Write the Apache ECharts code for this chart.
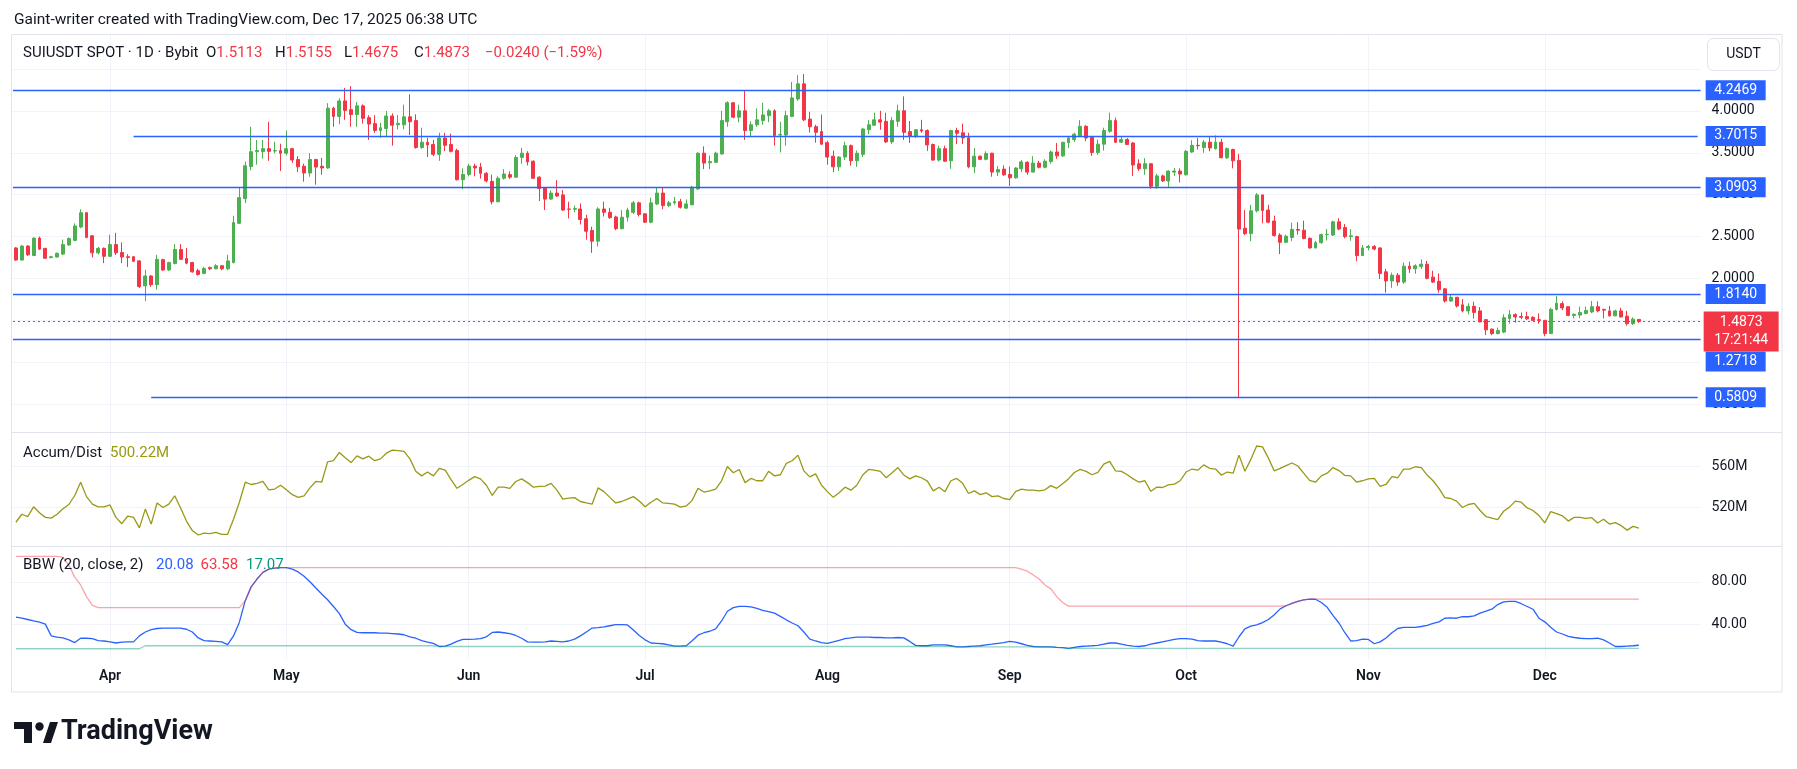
<!DOCTYPE html>
<html>
<head>
<meta charset="utf-8">
<title>SUIUSDT 1D</title>
<script src="https://cdn.jsdelivr.net/npm/echarts@6/dist/echarts.min.js"></script>
<style>
  html, body { margin: 0; padding: 0; background: #fff; }
  #chart { width: 1797px; height: 769px; }
</style>
</head>
<body>
<div id="chart"></div>
<script>
// 日线，从 2025-03-16 开始，每天一根
var firstDay = '2025-03-16'
var emptyDays = 10 // 最后一根K线右侧的空白天数

// [open, close, low, high]
var candles = [
  [2.365, 2.220, 2.211, 2.374], [2.220, 2.387, 2.215, 2.400], [2.387, 2.283, 2.270, 2.400], [2.274, 2.482, 2.270, 2.490], [2.482, 2.351, 2.340, 2.500],
  [2.360, 2.242, 2.235, 2.365], [2.250, 2.260, 2.240, 2.270], [2.256, 2.300, 2.250, 2.310], [2.292, 2.405, 2.280, 2.464], [2.400, 2.478, 2.390, 2.490],
  [2.455, 2.627, 2.445, 2.658], [2.614, 2.785, 2.600, 2.826], [2.785, 2.491, 2.480, 2.795], [2.510, 2.306, 2.251, 2.520], [2.306, 2.360, 2.287, 2.378],
  [2.360, 2.265, 2.183, 2.370], [2.265, 2.405, 2.260, 2.523], [2.405, 2.306, 2.280, 2.545], [2.310, 2.256, 2.183, 2.430], [2.260, 2.250, 2.138, 2.290],
  [2.260, 2.206, 2.195, 2.270], [2.210, 1.903, 1.885, 2.220], [1.912, 2.030, 1.731, 2.102], [2.030, 1.926, 1.900, 2.040], [1.926, 2.229, 1.867, 2.283],
  [2.225, 2.102, 2.090, 2.235], [2.102, 2.190, 2.090, 2.200], [2.180, 2.346, 2.170, 2.410], [2.346, 2.229, 2.220, 2.410], [2.240, 2.183, 2.170, 2.365],
  [2.190, 2.079, 2.070, 2.200], [2.093, 2.048, 2.034, 2.116], [2.061, 2.120, 2.050, 2.138], [2.130, 2.116, 2.100, 2.143], [2.116, 2.152, 2.110, 2.170],
  [2.152, 2.116, 2.100, 2.160], [2.116, 2.210, 2.100, 2.283], [2.190, 2.668, 2.180, 2.749], [2.659, 2.966, 2.650, 3.088], [2.953, 3.346, 2.900, 3.396],
  [3.337, 3.514, 3.292, 3.812], [3.514, 3.527, 3.360, 3.654], [3.514, 3.550, 3.430, 3.654], [3.550, 3.518, 3.405, 3.871], [3.523, 3.527, 3.495, 3.632],
  [3.527, 3.496, 3.283, 3.609], [3.496, 3.550, 3.470, 3.767], [3.550, 3.414, 3.380, 3.560], [3.420, 3.333, 3.270, 3.460], [3.340, 3.260, 3.156, 3.370],
  [3.260, 3.420, 3.215, 3.496], [3.420, 3.330, 3.120, 3.430], [3.340, 3.320, 3.238, 3.440], [3.320, 4.034, 3.310, 4.093], [4.034, 3.935, 3.812, 4.050],
  [3.935, 4.120, 3.840, 4.152], [4.120, 4.007, 3.894, 4.274], [4.016, 3.957, 3.812, 4.297], [3.957, 4.061, 3.812, 4.107], [4.061, 3.912, 3.850, 4.080],
  [3.920, 3.844, 3.654, 3.950], [3.849, 3.767, 3.740, 3.950], [3.767, 3.800, 3.680, 3.860], [3.790, 3.940, 3.686, 4.000], [3.940, 3.830, 3.586, 3.970],
  [3.835, 3.853, 3.780, 3.950], [3.835, 3.930, 3.780, 4.075], [3.930, 3.871, 3.713, 4.200], [3.885, 3.564, 3.550, 3.960], [3.564, 3.627, 3.550, 3.800],
  [3.627, 3.595, 3.450, 3.680], [3.600, 3.482, 3.460, 3.654], [3.482, 3.677, 3.405, 3.740], [3.677, 3.590, 3.520, 3.740], [3.600, 3.518, 3.505, 3.730],
  [3.527, 3.179, 3.170, 3.550], [3.179, 3.242, 3.066, 3.315], [3.242, 3.342, 3.220, 3.370], [3.342, 3.320, 3.220, 3.370], [3.330, 3.256, 3.193, 3.380],
  [3.256, 3.165, 3.147, 3.270], [3.160, 2.916, 2.885, 3.240], [2.916, 3.197, 2.910, 3.220], [3.197, 3.247, 3.180, 3.306], [3.240, 3.210, 3.190, 3.280],
  [3.210, 3.446, 3.200, 3.473], [3.446, 3.496, 3.370, 3.559], [3.496, 3.392, 3.350, 3.520], [3.400, 3.197, 3.188, 3.410], [3.210, 3.075, 2.925, 3.220],
  [3.084, 2.948, 2.817, 3.090], [2.948, 3.020, 2.935, 3.052], [3.020, 2.985, 2.975, 3.174], [2.998, 2.817, 2.808, 3.057], [2.830, 2.826, 2.717, 2.917],
  [2.826, 2.835, 2.790, 2.870], [2.830, 2.704, 2.645, 2.895], [2.713, 2.564, 2.464, 2.760], [2.573, 2.446, 2.306, 2.618], [2.446, 2.830, 2.382, 2.850],
  [2.830, 2.790, 2.740, 2.917], [2.790, 2.726, 2.713, 2.844], [2.735, 2.595, 2.577, 2.750], [2.595, 2.731, 2.586, 2.817], [2.731, 2.817, 2.680, 2.844],
  [2.790, 2.903, 2.770, 2.926], [2.903, 2.763, 2.740, 2.917], [2.772, 2.672, 2.663, 2.780], [2.672, 2.903, 2.659, 2.966], [2.890, 3.020, 2.876, 3.084],
  [3.020, 2.870, 2.826, 3.084], [2.870, 2.903, 2.850, 2.926], [2.903, 2.917, 2.880, 2.975], [2.917, 2.850, 2.835, 2.950], [2.840, 2.890, 2.830, 2.944],
  [2.880, 3.088, 2.876, 3.106], [3.070, 3.496, 3.057, 3.505], [3.496, 3.378, 3.306, 3.577], [3.382, 3.396, 3.306, 3.468], [3.387, 3.496, 3.378, 3.514],
  [3.487, 3.885, 3.478, 4.002], [3.872, 4.098, 3.812, 4.116], [4.098, 3.926, 3.912, 4.107], [3.926, 4.002, 3.867, 4.075], [4.002, 3.767, 3.654, 4.242],
  [3.767, 3.835, 3.700, 3.876], [3.835, 3.894, 3.810, 4.030], [3.885, 3.953, 3.835, 4.098], [3.944, 4.002, 3.867, 4.025], [4.002, 3.708, 3.586, 4.020],
  [3.713, 3.720, 3.505, 3.871], [3.713, 3.944, 3.586, 4.002], [3.935, 4.156, 3.926, 4.346], [4.143, 4.324, 4.120, 4.428], [4.324, 3.894, 3.880, 4.441],
  [3.903, 3.812, 3.745, 3.990], [3.812, 3.745, 3.622, 3.835], [3.754, 3.604, 3.595, 3.957], [3.622, 3.450, 3.360, 3.645], [3.460, 3.333, 3.270, 3.527],
  [3.333, 3.450, 3.283, 3.460], [3.450, 3.586, 3.414, 3.632], [3.586, 3.405, 3.346, 3.600], [3.405, 3.496, 3.333, 3.527], [3.482, 3.785, 3.450, 3.800],
  [3.776, 3.835, 3.722, 3.894], [3.830, 3.894, 3.821, 3.980], [3.894, 3.867, 3.776, 4.002], [3.876, 3.631, 3.618, 3.980], [3.631, 3.885, 3.604, 3.926],
  [3.876, 4.002, 3.812, 4.075], [4.002, 3.745, 3.654, 4.174], [3.754, 3.699, 3.618, 3.880], [3.699, 3.776, 3.677, 3.780], [3.776, 3.762, 3.740, 3.894],
  [3.767, 3.595, 3.523, 3.780], [3.600, 3.414, 3.405, 3.610], [3.414, 3.550, 3.396, 3.586], [3.550, 3.400, 3.392, 3.586], [3.405, 3.767, 3.310, 3.776],
  [3.767, 3.735, 3.604, 3.800], [3.740, 3.677, 3.604, 3.849], [3.681, 3.333, 3.315, 3.740], [3.333, 3.460, 3.260, 3.559], [3.460, 3.423, 3.414, 3.468],
  [3.423, 3.491, 3.410, 3.518], [3.496, 3.270, 3.215, 3.500], [3.270, 3.300, 3.224, 3.342], [3.306, 3.238, 3.224, 3.350], [3.242, 3.202, 3.106, 3.337],
  [3.202, 3.319, 3.193, 3.328], [3.310, 3.392, 3.270, 3.414], [3.387, 3.270, 3.238, 3.400], [3.270, 3.378, 3.270, 3.460], [3.378, 3.328, 3.315, 3.405],
  [3.328, 3.400, 3.315, 3.423], [3.396, 3.510, 3.370, 3.527], [3.510, 3.464, 3.428, 3.618], [3.464, 3.627, 3.450, 3.630], [3.622, 3.677, 3.559, 3.695],
  [3.658, 3.722, 3.631, 3.740], [3.704, 3.817, 3.695, 3.890], [3.817, 3.677, 3.640, 3.830], [3.686, 3.505, 3.464, 3.690], [3.505, 3.604, 3.478, 3.659],
  [3.604, 3.767, 3.527, 3.800], [3.758, 3.885, 3.740, 3.980], [3.885, 3.627, 3.618, 3.920], [3.627, 3.659, 3.618, 3.699], [3.659, 3.600, 3.595, 3.677],
  [3.618, 3.355, 3.225, 3.630], [3.370, 3.310, 3.283, 3.423], [3.310, 3.370, 3.238, 3.437], [3.370, 3.102, 3.070, 3.380], [3.102, 3.225, 3.070, 3.251],
  [3.225, 3.165, 3.152, 3.240], [3.165, 3.283, 3.093, 3.290], [3.270, 3.283, 3.225, 3.320], [3.283, 3.247, 3.147, 3.315], [3.238, 3.518, 3.230, 3.532],
  [3.510, 3.590, 3.500, 3.650], [3.590, 3.586, 3.540, 3.677], [3.563, 3.627, 3.500, 3.654], [3.627, 3.559, 3.518, 3.699], [3.550, 3.627, 3.540, 3.708],
  [3.627, 3.441, 3.436, 3.668], [3.441, 3.550, 3.428, 3.563], [3.540, 3.405, 3.315, 3.550], [3.410, 2.591, 0.582, 3.487], [2.600, 2.536, 2.518, 2.817],
  [2.536, 2.808, 2.446, 2.880], [2.808, 2.998, 2.790, 3.020], [2.998, 2.812, 2.659, 3.000], [2.817, 2.672, 2.659, 2.880], [2.686, 2.514, 2.500, 2.750],
  [2.518, 2.432, 2.292, 2.540], [2.432, 2.505, 2.423, 2.523], [2.490, 2.586, 2.446, 2.668], [2.586, 2.577, 2.523, 2.672], [2.577, 2.478, 2.468, 2.690],
  [2.480, 2.365, 2.356, 2.490], [2.365, 2.428, 2.360, 2.450], [2.428, 2.523, 2.415, 2.536], [2.523, 2.527, 2.455, 2.590], [2.518, 2.677, 2.509, 2.690],
  [2.677, 2.590, 2.577, 2.720], [2.609, 2.500, 2.478, 2.650], [2.500, 2.509, 2.450, 2.590], [2.500, 2.274, 2.206, 2.510], [2.274, 2.365, 2.270, 2.400],
  [2.370, 2.383, 2.337, 2.400], [2.383, 2.351, 2.337, 2.400], [2.365, 2.061, 1.993, 2.370], [2.080, 1.971, 1.831, 2.115], [1.971, 2.039, 1.889, 2.070],
  [2.039, 1.957, 1.912, 2.066], [1.957, 2.147, 1.935, 2.192], [2.147, 2.115, 2.066, 2.200], [2.115, 2.152, 2.057, 2.170], [2.143, 2.170, 2.115, 2.228],
  [2.170, 2.002, 1.990, 2.210], [2.016, 1.957, 1.948, 2.093], [1.966, 1.867, 1.831, 2.061], [1.876, 1.731, 1.713, 1.885], [1.731, 1.776, 1.722, 1.812],
  [1.776, 1.672, 1.654, 1.780], [1.686, 1.613, 1.595, 1.754], [1.613, 1.668, 1.572, 1.704], [1.668, 1.595, 1.523, 1.722], [1.613, 1.482, 1.477, 1.659],
  [1.509, 1.387, 1.324, 1.510], [1.396, 1.342, 1.324, 1.400], [1.342, 1.378, 1.333, 1.414], [1.360, 1.532, 1.346, 1.572], [1.523, 1.568, 1.460, 1.623],
  [1.568, 1.541, 1.473, 1.586], [1.545, 1.536, 1.514, 1.595], [1.545, 1.518, 1.505, 1.604], [1.536, 1.500, 1.495, 1.550], [1.509, 1.500, 1.460, 1.582],
  [1.500, 1.342, 1.310, 1.505], [1.342, 1.631, 1.340, 1.650], [1.631, 1.704, 1.618, 1.790], [1.700, 1.649, 1.622, 1.727], [1.663, 1.559, 1.550, 1.668],
  [1.559, 1.573, 1.523, 1.582], [1.563, 1.595, 1.527, 1.663], [1.582, 1.618, 1.573, 1.663], [1.600, 1.663, 1.586, 1.731], [1.663, 1.613, 1.595, 1.727],
  [1.631, 1.622, 1.523, 1.640], [1.613, 1.554, 1.545, 1.672], [1.554, 1.613, 1.550, 1.627], [1.613, 1.541, 1.536, 1.650], [1.550, 1.460, 1.437, 1.613],
  [1.460, 1.514, 1.446, 1.536], [1.5113, 1.4873, 1.4675, 1.5155]
]

// Accum/Dist（百万）
var accDist = [
  505.8, 513.5, 511.3, 520.7, 514.9, 510.5, 509.8, 513.5, 518.9, 522.9,
  531.6, 544.4, 530.5, 523.3, 520.7, 520.7, 522.5, 510.5, 504.4, 511.6,
  510.5, 500.4, 518.5, 504.0, 524.4, 520.0, 523.3, 531.3, 519.6, 506.9,
  497.8, 493.5, 495.3, 494.9, 496.0, 494.2, 494.2, 508.7, 525.1, 544.4,
  542.2, 543.3, 545.1, 537.1, 537.8, 541.5, 537.1, 532.4, 529.8, 531.3,
  538.9, 545.1, 544.4, 564.0, 565.1, 573.1, 568.0, 563.3, 569.8, 566.9,
  569.5, 565.1, 566.9, 572.4, 575.3, 574.9, 574.2, 566.9, 554.9, 550.5,
  554.2, 550.5, 557.8, 556.0, 546.9, 538.5, 542.2, 546.2, 549.8, 547.6,
  541.5, 531.6, 539.6, 539.6, 538.5, 545.1, 547.6, 544.0, 539.6, 540.4,
  540.7, 543.3, 536.7, 528.0, 529.1, 529.5, 525.8, 524.4, 523.3, 538.9,
  535.3, 529.8, 524.4, 525.8, 528.0, 530.5, 526.2, 520.7, 525.1, 528.7,
  524.4, 524.0, 523.3, 520.4, 521.5, 526.9, 538.5, 534.9, 536.0, 537.8,
  545.8, 559.6, 553.5, 556.7, 544.0, 548.0, 545.8, 545.8, 554.9, 550.5,
  551.6, 562.5, 565.1, 570.5, 555.3, 549.5, 552.4, 541.5, 535.3, 529.8,
  534.2, 539.6, 536.7, 541.5, 551.3, 556.7, 556.0, 554.9, 548.7, 553.5,
  558.5, 551.3, 547.6, 550.5, 548.7, 545.5, 536.0, 539.6, 535.3, 545.8,
  548.0, 543.3, 533.5, 536.0, 532.4, 534.2, 530.5, 531.3, 528.7, 527.6,
  535.3, 537.8, 536.7, 536.7, 536.0, 537.1, 541.1, 538.5, 542.9, 547.6,
  553.8, 556.7, 554.9, 551.6, 553.8, 561.8, 564.4, 555.3, 554.9, 551.6,
  547.6, 544.4, 545.8, 535.6, 539.6, 539.3, 541.8, 542.5, 545.8, 554.2,
  557.1, 556.0, 561.1, 557.8, 557.1, 551.3, 554.2, 553.1, 570.5, 554.9,
  566.2, 579.3, 578.5, 567.6, 555.3, 557.8, 560.4, 562.9, 560.0, 553.1,
  546.2, 544.4, 550.5, 553.1, 558.5, 555.6, 550.9, 550.5, 544.4, 545.8,
  547.6, 548.0, 540.4, 542.2, 549.8, 548.7, 557.1, 557.1, 559.3, 558.5,
  551.3, 545.8, 538.5, 529.5, 528.7, 526.2, 520.0, 522.9, 524.0, 517.1,
  511.3, 509.8, 508.4, 516.4, 520.4, 526.2, 525.1, 519.6, 517.1, 512.4,
  505.1, 516.0, 514.2, 512.0, 506.9, 510.5, 510.5, 509.5, 510.2, 505.1,
  508.7, 504.0, 505.5, 502.5, 498.2, 501.8, 500.22
]

// BBW (20, close, 2)
var bbw = [
  46.7, 45.6, 44.4, 43.0, 41.9, 40.0, 28.9, 27.8, 27.0, 25.2,
  22.6, 26.7, 26.7, 26.3, 24.4, 24.1, 23.3, 22.2, 23.0, 23.3,
  23.3, 28.9, 32.6, 34.8, 35.9, 36.3, 36.3, 36.3, 36.3, 35.2,
  32.6, 27.0, 24.4, 24.1, 23.7, 23.3, 20.7, 28.9, 41.9, 62.2,
  75.2, 82.6, 88.9, 91.9, 93.0, 93.3, 93.3, 91.9, 89.3, 85.2,
  80.0, 74.1, 68.5, 63.0, 56.7, 50.0, 40.0, 34.8, 32.2, 31.9,
  31.9, 31.9, 31.5, 31.5, 31.1, 30.7, 30.0, 28.1, 26.7, 24.4,
  23.0, 21.9, 18.9, 19.3, 21.1, 23.7, 25.6, 25.6, 25.9, 26.3,
  28.1, 32.2, 32.6, 31.9, 31.1, 29.3, 26.7, 23.3, 23.0, 23.0,
  23.3, 24.1, 23.7, 23.3, 24.1, 25.9, 28.9, 32.6, 36.3, 36.7,
  37.4, 38.5, 39.6, 39.6, 39.3, 34.4, 29.3, 25.2, 22.2, 21.9,
  21.5, 20.4, 19.3, 19.3, 19.6, 24.4, 29.6, 31.9, 33.3, 35.6,
  43.0, 52.2, 55.6, 56.7, 56.7, 56.3, 54.8, 53.0, 51.9, 50.4,
  47.4, 44.1, 41.1, 38.5, 32.6, 25.9, 24.1, 22.6, 21.9, 23.3,
  24.8, 26.3, 27.0, 27.8, 27.8, 27.8, 27.4, 27.4, 27.0, 27.0,
  27.4, 27.0, 23.7, 20.0, 19.6, 19.6, 20.4, 20.4, 20.4, 19.6,
  18.5, 18.5, 18.9, 19.3, 19.6, 20.4, 21.1, 21.9, 22.6, 23.7,
  23.0, 21.5, 20.0, 18.9, 18.5, 18.5, 18.5, 18.1, 17.8, 17.07,
  18.1, 18.9, 19.3, 19.6, 20.0, 21.1, 22.2, 22.2, 21.1, 20.0,
  19.3, 18.9, 19.6, 21.1, 22.2, 23.3, 24.4, 25.6, 26.3, 26.3,
  25.9, 24.4, 24.1, 24.1, 24.1, 23.0, 21.5, 19.3, 28.1, 35.6,
  38.1, 39.3, 41.5, 44.4, 48.9, 54.4, 57.4, 59.6, 61.5, 63.0,
  63.58, 63.5, 60.4, 55.9, 48.1, 41.1, 31.9, 24.1, 24.4, 25.9,
  25.6, 21.5, 23.3, 27.0, 31.9, 35.9, 37.0, 37.0, 37.0, 37.8,
  38.9, 40.7, 42.2, 45.6, 45.9, 45.6, 47.0, 47.0, 47.8, 50.4,
  52.2, 54.1, 58.5, 61.1, 61.5, 61.5, 59.3, 56.7, 54.1, 45.6,
  42.2, 37.0, 32.6, 30.7, 28.5, 27.4, 26.7, 26.3, 26.3, 26.7,
  25.2, 22.2, 18.9, 18.9, 19.3, 19.6, 20.08
]

// Highest Expansion
var bbwHigh = [
  104, 104, 104, 104, 104, 104, 104, 104, 103, 95.5,
  84.4, 77, 66, 57.8, 55.6, 55.6, 55.6, 55.6, 55.6, 55.6,
  55.6, 55.6, 55.6, 55.6, 55.6, 55.6, 55.6, 55.6, 55.6, 55.6,
  55.6, 55.6, 55.6, 55.6, 55.6, 55.6, 55.6, 55.6, 55.6, 62.2,
  75.2, 82.6, 88.9, 91.9, 93, 93.3, 93.3, 93.3, 93.3, 93.3,
  93.3, 93.3, 93.3, 93.3, 93.3, 93.3, 93.3, 93.3, 93.3, 93.3,
  93.3, 93.3, 93.3, 93.3, 93.3, 93.3, 93.3, 93.3, 93.3, 93.3,
  93.3, 93.3, 93.3, 93.3, 93.3, 93.3, 93.3, 93.3, 93.3, 93.3,
  93.3, 93.3, 93.3, 93.3, 93.3, 93.3, 93.3, 93.3, 93.3, 93.3,
  93.3, 93.3, 93.3, 93.3, 93.3, 93.3, 93.3, 93.3, 93.3, 93.3,
  93.3, 93.3, 93.3, 93.3, 93.3, 93.3, 93.3, 93.3, 93.3, 93.3,
  93.3, 93.3, 93.3, 93.3, 93.3, 93.3, 93.3, 93.3, 93.3, 93.3,
  93.3, 93.3, 93.3, 93.3, 93.3, 93.3, 93.3, 93.3, 93.3, 93.3,
  93.3, 93.3, 93.3, 93.3, 93.3, 93.3, 93.3, 93.3, 93.3, 93.3,
  93.3, 93.3, 93.3, 93.3, 93.3, 93.3, 93.3, 93.3, 93.3, 93.3,
  93.3, 93.3, 93.3, 93.3, 93.3, 93.3, 93.3, 93.3, 93.3, 93.3,
  93.3, 93.3, 93.3, 93.3, 93.3, 93.3, 93.3, 93.3, 93.3, 93.3,
  93.3, 92, 90, 86.5, 82.6, 77, 73.3, 66, 60.4, 57,
  57, 57, 57, 57, 57, 57, 57, 57, 57, 57,
  57, 57, 57, 57, 57, 57, 57, 57, 57, 57,
  57, 57, 57, 57, 57, 57, 57, 57, 57, 57,
  57, 57, 57, 57, 57, 57, 57.4, 59.6, 61.5, 63,
  63.58, 63.58, 63.58, 63.58, 63.58, 63.58, 63.58, 63.58, 63.58, 63.58,
  63.58, 63.58, 63.58, 63.58, 63.58, 63.58, 63.58, 63.58, 63.58, 63.58,
  63.58, 63.58, 63.58, 63.58, 63.58, 63.58, 63.58, 63.58, 63.58, 63.58,
  63.58, 63.58, 63.58, 63.58, 63.58, 63.58, 63.58, 63.58, 63.58, 63.58,
  63.58, 63.58, 63.58, 63.58, 63.58, 63.58, 63.58, 63.58, 63.58, 63.58,
  63.58, 63.58, 63.58, 63.58, 63.58, 63.58, 63.58
]

// Lowest Contraction
var bbwLow = [
  16.8, 16.8, 16.8, 16.8, 16.8, 16.8, 16.8, 16.8, 16.8, 16.8,
  16.8, 16.8, 16.8, 16.8, 16.8, 16.8, 16.8, 16.8, 16.8, 16.8,
  16.8, 16.8, 19.6, 19.6, 19.6, 19.6, 19.6, 19.6, 19.6, 19.6,
  19.6, 19.6, 19.6, 19.6, 19.6, 19.6, 19.6, 19.6, 19.6, 19.6,
  19.6, 19.6, 19.6, 19.6, 19.6, 19.6, 19.6, 19.6, 19.6, 19.6,
  19.6, 19.6, 19.6, 19.6, 19.6, 19.6, 19.6, 19.6, 19.6, 19.6,
  19.6, 19.6, 19.6, 19.6, 19.6, 19.6, 19.6, 19.6, 19.6, 19.6,
  19.6, 19.6, 18.9, 18.9, 18.9, 18.9, 18.9, 18.9, 18.9, 18.9,
  18.9, 18.9, 18.9, 18.9, 18.9, 18.9, 18.9, 18.9, 18.9, 18.9,
  18.9, 18.9, 18.9, 18.9, 18.9, 18.9, 18.9, 18.9, 18.9, 18.9,
  18.9, 18.9, 18.9, 18.9, 18.9, 18.9, 18.9, 18.9, 18.9, 18.9,
  18.9, 18.9, 18.9, 18.9, 18.9, 18.9, 18.9, 18.9, 18.9, 18.9,
  18.9, 18.9, 18.9, 18.9, 18.9, 18.9, 18.9, 18.9, 18.9, 18.9,
  18.9, 18.9, 18.9, 18.9, 18.9, 18.9, 18.9, 18.9, 18.9, 18.9,
  18.9, 18.9, 18.9, 18.9, 18.9, 18.9, 18.9, 18.9, 18.9, 18.9,
  18.9, 18.9, 18.9, 18.9, 18.9, 18.9, 18.9, 18.9, 18.9, 18.9,
  18.5, 18.5, 18.5, 18.5, 18.5, 18.5, 18.5, 18.5, 18.5, 18.5,
  18.5, 18.5, 18.5, 18.5, 18.5, 18.5, 18.5, 18.1, 17.8, 17.07,
  17.07, 17.07, 17.07, 17.07, 17.07, 17.07, 17.07, 17.07, 17.07, 17.07,
  17.07, 17.07, 17.07, 17.07, 17.07, 17.07, 17.07, 17.07, 17.07, 17.07,
  17.07, 17.07, 17.07, 17.07, 17.07, 17.07, 17.07, 17.07, 17.07, 17.07,
  17.07, 17.07, 17.07, 17.07, 17.07, 17.07, 17.07, 17.07, 17.07, 17.07,
  17.07, 17.07, 17.07, 17.07, 17.07, 17.07, 17.07, 17.07, 17.07, 17.07,
  17.07, 17.07, 17.07, 17.07, 17.07, 17.07, 17.07, 17.07, 17.07, 17.07,
  17.07, 17.07, 17.07, 17.07, 17.07, 17.07, 17.07, 17.07, 17.07, 17.07,
  17.07, 17.07, 17.07, 17.07, 17.07, 17.07, 17.07, 17.07, 17.07, 17.07,
  17.07, 17.07, 17.07, 17.07, 17.07, 17.07, 17.07, 17.07, 17.07, 17.07,
  17.07, 17.07, 17.07, 17.07, 17.07, 17.07, 17.07
]

// 水平线价位，以及每条线从第几根K线开始画
var levels = [4.2469, 3.7015, 3.0903, 1.8140, 1.2718, 0.5809]
var levelStart = [0, 20, 0, 0, 0, 23]
var lastPrice = 1.4873
var countdown = '17:21:44'

// 刻度
var priceTicks = [0.5, 1, 1.5, 2, 2.5, 3, 3.5, 4, 4.5]
var adTicks = [520, 560]
var bbwTicks = [40, 80]
var monthNames = ['Jan', 'Feb', 'Mar', 'Apr', 'May', 'Jun', 'Jul', 'Aug', 'Sep', 'Oct', 'Nov', 'Dec']

var dates = []
var d0 = Date.parse(firstDay + 'T00:00:00Z')
for (var k = 0; k < candles.length + emptyDays; k++) {
  dates.push(new Date(d0 + k * 86400000).toISOString().slice(0, 10))
}
var lastIdx = dates.length - 1
var monthIdx = []
dates.forEach(function (d, i) { if (d.slice(8) === '01') monthIdx.push(i) })

var FONT = 'Roboto, "Noto Sans", sans-serif'
var TXT = '#131722'
var RED = '#f23645'
var gridColor = '#f0f3fa'

function gridLines (ticks, fmt, hidden) {
  var data = ticks.map(function (t) {
    return { yAxis: t, label: { show: hidden.indexOf(t) < 0, formatter: fmt(t) } }
  })
  monthIdx.forEach(function (i) {
    data.push({ xAxis: i, label: { show: false } })
  })
  return data
}

function gridHost (pane, data) {
  return {
    type: 'line',
    xAxisIndex: pane,
    yAxisIndex: pane,
    data: [],
    silent: true,
    clip: false,
    markLine: {
      silent: true,
      symbol: 'none',
      z: 1,
      lineStyle: { color: gridColor, width: 1, type: 'solid' },
      label: { position: 'end', distance: 11, color: TXT, fontSize: 14, fontFamily: FONT },
      data: data
    }
  }
}

// 图例文字：一段一段放
function legendText (x, y, parts) {
  var rich = {}
  var text = parts.map(function (p, i) {
    rich['p' + i] = { fill: p[1], fontSize: 15, fontFamily: FONT }
    return '{p' + i + '|' + p[0] + '}'
  }).join('')
  return { type: 'text', z: 100, x: x, y: y, style: { text: text, font: '15px ' + FONT, verticalAlign: 'middle', rich: rich } }
}

// 右侧价格标签
var badges = levels.map(function (v) {
  return {
    value: [lastIdx, v],
    text: v.toFixed(4),
    symbolOffset: [38, v === 1.2718 ? 22 : 0]
  }
})
badges.push({
  value: [lastIdx, lastPrice],
  text: lastPrice.toFixed(4) + '\n' + countdown,
  symbolSize: [75, 40],
  symbolOffset: [43.5, 10],
  itemStyle: { color: RED, opacity: 1 }
})

var levelLines = levels.map(function (v, k) {
  if (levelStart[k] === 0) return { yAxis: v }
  return [{ coord: [levelStart[k], v] }, { coord: [lastIdx, v] }]
})
levelLines.push({ yAxis: lastPrice, lineStyle: { color: RED, type: [2, 3], width: 1 } })

var L = 13
var W = 1687.6
var xAxes = [0, 1, 2].map(function (g) {
  return {
    type: 'category',
    gridIndex: g,
    data: dates,
    boundaryGap: true,
    axisLine: { show: false },
    axisTick: { show: false },
    splitLine: { show: false },
    axisLabel: g === 2 ? {
      show: true,
      interval: function (i, v) { return v.slice(8) === '01' },
      formatter: function (v) { return monthNames[+v.slice(5, 7) - 1] },
      color: TXT,
      fontSize: 14,
      fontWeight: 600,
      fontFamily: FONT,
      margin: 10
    } : { show: false }
  }
})

var yRange = [[0.1672, 4.919], [482.9, 592.8], [7.1, 113.8]]
var yAxes = yRange.map(function (r, g) {
  return {
    type: 'value',
    gridIndex: g,
    min: r[0],
    max: r[1],
    axisLine: { show: false },
    axisTick: { show: false },
    axisLabel: { show: false },
    splitLine: { show: false }
  }
})

var option = {
  animation: false,
  backgroundColor: '#ffffff',
  grid: [
    { left: L, top: 34, width: W, height: 398 },
    { left: L, top: 432, width: W, height: 114 },
    { left: L, top: 546, width: W, height: 113 }
  ],
  xAxis: xAxes,
  yAxis: yAxes,
  series: [
    gridHost(0, gridLines(priceTicks, function (t) { return t.toFixed(4) }, [4.5])),
    gridHost(1, gridLines(adTicks, function (t) { return t + 'M' }, [])),
    gridHost(2, gridLines(bbwTicks, function (t) { return t.toFixed(2) }, [])),
    {
      name: 'SUIUSDT',
      type: 'candlestick',
      xAxisIndex: 0,
      yAxisIndex: 0,
      data: candles,
      barWidth: 3.4,
      z: 3,
      itemStyle: {
        color: '#4caf50',
        color0: RED,
        borderColor: '#4caf50',
        borderColor0: RED,
        borderWidth: 1
      }
    },
    {
      type: 'line',
      xAxisIndex: 0,
      yAxisIndex: 0,
      data: [],
      silent: true,
      markLine: {
        silent: true,
        symbol: 'none',
        z: 4,
        label: { show: false },
        lineStyle: { color: '#2962ff', width: 1.3, type: 'solid' },
        data: levelLines
      }
    },
    {
      type: 'scatter',
      xAxisIndex: 0,
      yAxisIndex: 0,
      silent: true,
      clip: false,
      z: 10,
      symbol: 'rect',
      symbolSize: [60, 20],
      itemStyle: { color: '#2962ff', opacity: 1 },
      label: {
        show: true,
        position: 'inside',
        color: '#ffffff',
        fontSize: 14,
        fontFamily: FONT,
        lineHeight: 18,
        formatter: function (p) { return p.data.text }
      },
      data: badges
    },
    {
      name: 'Accum/Dist',
      type: 'line',
      xAxisIndex: 1,
      yAxisIndex: 1,
      data: accDist,
      showSymbol: false,
      lineStyle: { color: '#999915', width: 1.3 }
    },
    {
      name: 'BBW',
      type: 'line',
      xAxisIndex: 2,
      yAxisIndex: 2,
      data: bbw,
      showSymbol: false,
      lineStyle: { color: '#2962ff', width: 1.3 }
    },
    {
      name: 'Highest Expansion',
      type: 'line',
      xAxisIndex: 2,
      yAxisIndex: 2,
      data: bbwHigh,
      showSymbol: false,
      lineStyle: { color: 'rgba(242, 54, 69, 0.45)', width: 1.3 }
    },
    {
      name: 'Lowest Contraction',
      type: 'line',
      xAxisIndex: 2,
      yAxisIndex: 2,
      data: bbwLow,
      showSymbol: false,
      lineStyle: { color: 'rgba(8, 153, 129, 0.45)', width: 1.3 }
    }
  ],
  graphic: [
    // 外框和分隔线
    { type: 'rect', z: 50, silent: true, shape: { x: 11.5, y: 34.5, width: 1770.5, height: 657.5 }, style: { fill: 'none', stroke: '#e0e3eb', lineWidth: 1 } },
    { type: 'line', z: 50, silent: true, shape: { x1: 11.5, y1: 432.5, x2: 1782, y2: 432.5 }, style: { stroke: '#e0e3eb', lineWidth: 1 } },
    { type: 'line', z: 50, silent: true, shape: { x1: 11.5, y1: 546.5, x2: 1782, y2: 546.5 }, style: { stroke: '#e0e3eb', lineWidth: 1 } },
    // 顶部说明
    { type: 'text', z: 100, x: 14, y: 20, style: { text: 'Gaint-writer created with TradingView.com, Dec 17, 2025 06:38 UTC', fill: TXT, font: '15.5px ' + FONT, verticalAlign: 'middle' } },
    // 主图图例
    legendText(23, 53, [['SUIUSDT SPOT · 1D · Bybit', TXT]]),
    legendText(206, 53, [['O', TXT], ['1.5113', RED]]),
    legendText(275, 53, [['H', TXT], ['1.5155', RED]]),
    legendText(344, 53, [['L', TXT], ['1.4675', RED]]),
    legendText(414, 53, [['C', TXT], ['1.4873', RED]]),
    legendText(485, 53, [['−0.0240 (−1.59%)', RED]]),
    // 指标图例
    legendText(23, 453, [['Accum/Dist', TXT]]),
    legendText(110, 453, [['500.22M', '#999915']]),
    legendText(23, 565, [['BBW (20, close, 2)', TXT]]),
    legendText(156, 565, [['20.08', '#2962ff']]),
    legendText(200.5, 565, [['63.58', RED]]),
    legendText(246, 565, [['17.07', '#089981']]),
    // USDT 按钮
    { type: 'rect', z: 100, silent: true, shape: { x: 1707.5, y: 38.5, width: 72, height: 32, r: 6 }, style: { fill: '#ffffff', stroke: '#e0e3eb', lineWidth: 1 } },
    { type: 'text', z: 101, x: 1743.5, y: 54.5, style: { text: 'USDT', fill: TXT, font: '14px ' + FONT, align: 'center', verticalAlign: 'middle' } },
    // TradingView 标志
    { type: 'rect', z: 100, shape: { x: 14, y: 722, width: 18, height: 7 }, style: { fill: TXT } },
    { type: 'rect', z: 100, shape: { x: 24, y: 722, width: 8, height: 21 }, style: { fill: TXT } },
    { type: 'circle', z: 100, shape: { cx: 39.5, cy: 726.5, r: 4.2 }, style: { fill: TXT } },
    { type: 'polygon', z: 100, shape: { points: [[43, 743], [50, 722], [58, 722], [51, 743]] }, style: { fill: TXT } },
    { type: 'text', z: 100, x: 61, y: 732.5, style: { text: 'TradingView', fill: TXT, font: 'bold 27px ' + FONT, verticalAlign: 'middle' } }
  ]
}

var chart = echarts.init(document.getElementById('chart'))
chart.setOption(option)
</script>
</body>
</html>
